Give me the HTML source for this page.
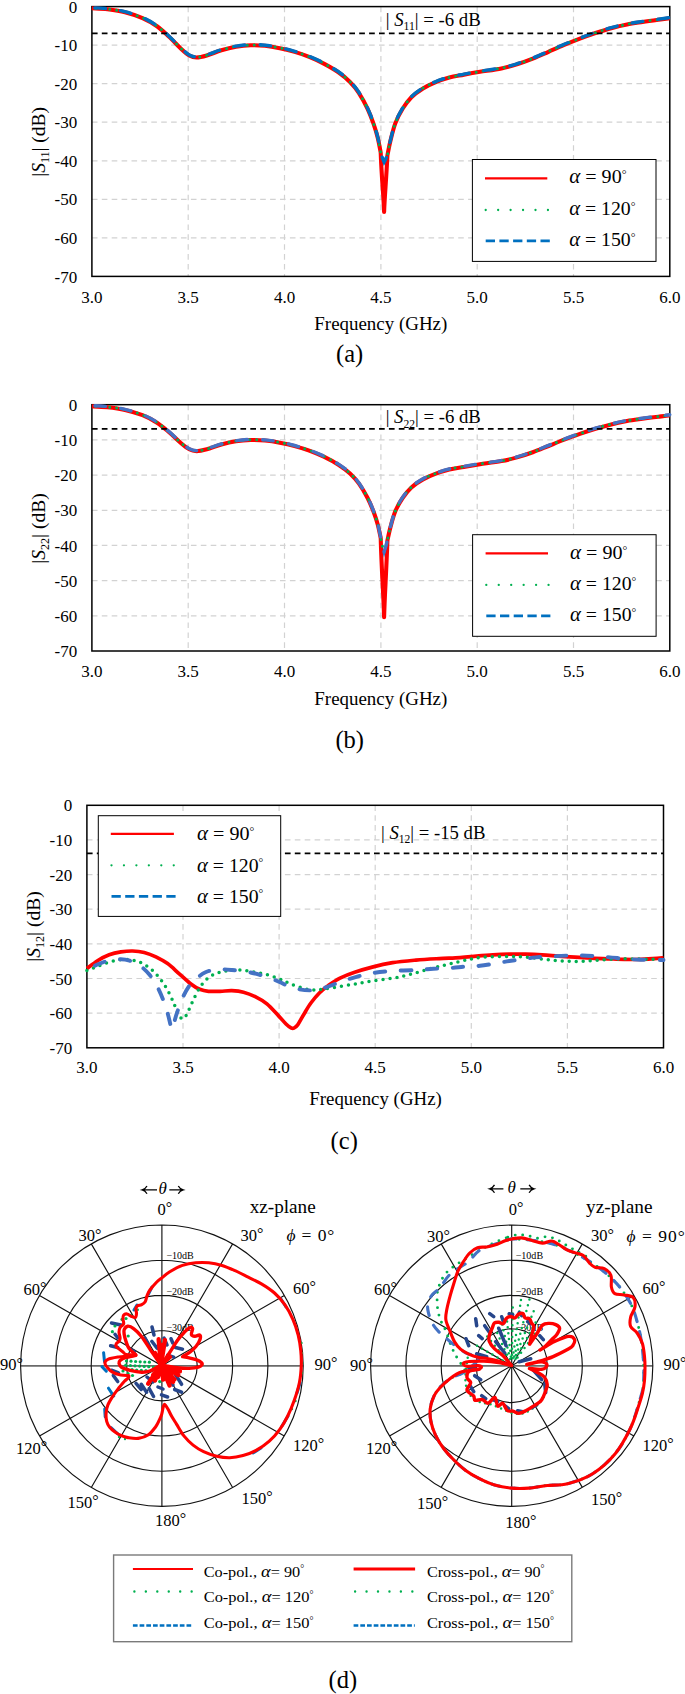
<!DOCTYPE html>
<html><head><meta charset="utf-8"><title>fig</title>
<style>html,body{margin:0;padding:0;background:#fff}svg{display:block}text{font-family:"Liberation Serif",serif;fill:#000}</style>
</head><body>
<svg width="685" height="1694" viewBox="0 0 685 1694">
<rect width="685" height="1694" fill="#fff"/>
<defs>
<clipPath id="clip11"><rect x="91.9" y="6.6" width="577.9" height="269.8"/></clipPath>
<clipPath id="clip22"><rect x="91.9" y="404.7" width="577.9" height="246.3"/></clipPath>
<clipPath id="clip12"><rect x="86.9" y="805.3" width="576.6" height="242.5"/></clipPath>
</defs>
<path d="M91.9,45.1H669.8M91.9,83.7H669.8M91.9,122.2H669.8M91.9,160.8H669.8M91.9,199.3H669.8M91.9,237.9H669.8M188.2,6.6V276.4M284.5,6.6V276.4M380.9,6.6V276.4M477.2,6.6V276.4M573.5,6.6V276.4" stroke="#d2d2d2" stroke-width="1.2" stroke-dasharray="5.6 4.3" fill="none"/>
<rect x="91.9" y="6.6" width="577.9" height="269.8" fill="none" stroke="#000" stroke-width="1.5"/>
<g>
<path d="M91.9,8.3C94.5,8.5 102,8.6 107.5,9.3C113,10 119.2,10.8 125,12.3C130.8,13.8 137.2,15.8 142.5,18.1C147.8,20.4 152.6,23.2 157,26.3C161.4,29.4 164.9,32.9 168.8,36.5C172.7,40.1 177.1,45 180.5,48.2C183.9,51.4 186.6,54 189.3,55.5C192,57 193.7,57.5 196.6,57.5C199.5,57.5 202.7,56.7 206.8,55.5C210.9,54.3 216.5,51.7 221.4,50.2C226.3,48.7 231.1,47.5 236,46.7C240.9,45.9 245.8,45.4 250.6,45.3C255.4,45.1 260.1,45.3 265,45.8C269.9,46.3 274.9,47.2 279.8,48.2C284.7,49.2 289.7,50.5 294.6,51.9C299.5,53.3 304.3,54.9 309.2,56.9C314.1,58.9 318.9,61 323.8,63.6C328.7,66.2 334,69.2 338.4,72.3C342.8,75.4 346.6,78.6 350,82C353.4,85.4 355.9,88.3 358.8,92.8C361.7,97.3 365.2,103.7 367.6,108.8C370,113.9 371.7,118.5 373.4,123.4C375.1,128.3 376.6,133.1 377.8,138C379,142.9 380.2,150.2 380.7,152.6C381.7,179.3 383.5,194.2 384.1,212 C384.7,195.1 386.2,180.9 387.4,155.5C387.9,153.1 389.1,146.3 390.4,141C391.7,135.7 393.3,128.8 395.3,123.4C397.3,118 399.9,113.2 402.6,108.8C405.3,104.4 408,100.6 411.4,97.2C414.8,93.8 419.1,90.8 423,88.4C426.9,86 430.3,84.4 434.7,82.6C439.1,80.8 444.4,78.9 449.3,77.6C454.2,76.3 458.8,75.7 463.9,74.7C469,73.7 473.8,72.8 480,71.8C486.2,70.8 495.2,69.7 501.4,68.4C507.6,67.2 511.8,65.9 517,64.3C522.2,62.7 527.5,60.8 532.8,58.7C538,56.6 543.3,54.1 548.5,51.8C553.7,49.5 559,47.1 564.2,44.9C569.4,42.7 574.7,40.6 579.9,38.6C585.1,36.6 590.3,34.7 595.5,33C600.7,31.3 605.9,29.6 611.2,28.2C616.4,26.8 621.8,25.5 627,24.5C632.2,23.5 637.4,22.8 642.6,22C647.8,21.2 653.8,20.4 658.3,19.8C662.8,19.2 667.9,18.5 669.8,18.2" stroke="#ff0000" stroke-width="4.1" fill="none" stroke-linejoin="round"/>
<path d="M91.9,8.3C94.5,8.5 102,8.6 107.5,9.3C113,10 119.2,10.8 125,12.3C130.8,13.8 137.2,15.8 142.5,18.1C147.8,20.4 152.6,23.2 157,26.3C161.4,29.4 164.9,32.9 168.8,36.5C172.7,40.1 177.1,45 180.5,48.2C183.9,51.4 186.6,54 189.3,55.5C192,57 193.7,57.5 196.6,57.5C199.5,57.5 202.7,56.7 206.8,55.5C210.9,54.3 216.5,51.7 221.4,50.2C226.3,48.7 231.1,47.5 236,46.7C240.9,45.9 245.8,45.4 250.6,45.3C255.4,45.1 260.1,45.3 265,45.8C269.9,46.3 274.9,47.2 279.8,48.2C284.7,49.2 289.7,50.5 294.6,51.9C299.5,53.3 304.3,54.9 309.2,56.9C314.1,58.9 318.9,61 323.8,63.6C328.7,66.2 334,69.2 338.4,72.3C342.8,75.4 346.6,78.6 350,82C353.4,85.4 355.9,88.3 358.8,92.8C361.7,97.3 365.2,103.7 367.6,108.8C370,113.9 371.7,118.5 373.4,123.4C375.1,128.3 376.6,133.1 377.8,138C379,142.9 380.2,150.2 380.7,152.6C381.7,157.1 382.9,159.7 384.1,162.7 C385.3,160.5 386.2,158.7 387.4,155.5C387.9,153.1 389.1,146.3 390.4,141C391.7,135.7 393.3,128.8 395.3,123.4C397.3,118 399.9,113.2 402.6,108.8C405.3,104.4 408,100.6 411.4,97.2C414.8,93.8 419.1,90.8 423,88.4C426.9,86 430.3,84.4 434.7,82.6C439.1,80.8 444.4,78.9 449.3,77.6C454.2,76.3 458.8,75.7 463.9,74.7C469,73.7 473.8,72.8 480,71.8C486.2,70.8 495.2,69.7 501.4,68.4C507.6,67.2 511.8,65.9 517,64.3C522.2,62.7 527.5,60.8 532.8,58.7C538,56.6 543.3,54.1 548.5,51.8C553.7,49.5 559,47.1 564.2,44.9C569.4,42.7 574.7,40.6 579.9,38.6C585.1,36.6 590.3,34.7 595.5,33C600.7,31.3 605.9,29.6 611.2,28.2C616.4,26.8 621.8,25.5 627,24.5C632.2,23.5 637.4,22.8 642.6,22C647.8,21.2 653.8,20.4 658.3,19.8C662.8,19.2 667.9,18.5 669.8,18.2" stroke="#00b050" stroke-width="3.0" fill="none" stroke-linecap="round" stroke-dasharray="0 7" stroke-dashoffset="3" transform="translate(0,-0.3)"/>
<path d="M91.9,8.3C94.5,8.5 102,8.6 107.5,9.3C113,10 119.2,10.8 125,12.3C130.8,13.8 137.2,15.8 142.5,18.1C147.8,20.4 152.6,23.2 157,26.3C161.4,29.4 164.9,32.9 168.8,36.5C172.7,40.1 177.1,45 180.5,48.2C183.9,51.4 186.6,54 189.3,55.5C192,57 193.7,57.5 196.6,57.5C199.5,57.5 202.7,56.7 206.8,55.5C210.9,54.3 216.5,51.7 221.4,50.2C226.3,48.7 231.1,47.5 236,46.7C240.9,45.9 245.8,45.4 250.6,45.3C255.4,45.1 260.1,45.3 265,45.8C269.9,46.3 274.9,47.2 279.8,48.2C284.7,49.2 289.7,50.5 294.6,51.9C299.5,53.3 304.3,54.9 309.2,56.9C314.1,58.9 318.9,61 323.8,63.6C328.7,66.2 334,69.2 338.4,72.3C342.8,75.4 346.6,78.6 350,82C353.4,85.4 355.9,88.3 358.8,92.8C361.7,97.3 365.2,103.7 367.6,108.8C370,113.9 371.7,118.5 373.4,123.4C375.1,128.3 376.6,133.1 377.8,138C379,142.9 380.2,150.2 380.7,152.6C381.7,157.1 382.9,159.7 384.1,162.7 C385.3,160.5 386.2,158.7 387.4,155.5C387.9,153.1 389.1,146.3 390.4,141C391.7,135.7 393.3,128.8 395.3,123.4C397.3,118 399.9,113.2 402.6,108.8C405.3,104.4 408,100.6 411.4,97.2C414.8,93.8 419.1,90.8 423,88.4C426.9,86 430.3,84.4 434.7,82.6C439.1,80.8 444.4,78.9 449.3,77.6C454.2,76.3 458.8,75.7 463.9,74.7C469,73.7 473.8,72.8 480,71.8C486.2,70.8 495.2,69.7 501.4,68.4C507.6,67.2 511.8,65.9 517,64.3C522.2,62.7 527.5,60.8 532.8,58.7C538,56.6 543.3,54.1 548.5,51.8C553.7,49.5 559,47.1 564.2,44.9C569.4,42.7 574.7,40.6 579.9,38.6C585.1,36.6 590.3,34.7 595.5,33C600.7,31.3 605.9,29.6 611.2,28.2C616.4,26.8 621.8,25.5 627,24.5C632.2,23.5 637.4,22.8 642.6,22C647.8,21.2 653.8,20.4 658.3,19.8C662.8,19.2 667.9,18.5 669.8,18.2" stroke="#0070c0" stroke-width="3.4" fill="none" stroke-linecap="round" stroke-dasharray="10.5 15.5" stroke-dashoffset="-3" transform="translate(0,-0.6)"/>
</g>
<path d="M91.9,33.3H669.8" stroke="#000" stroke-width="1.7" stroke-dasharray="5.7 4.2" fill="none"/>
<text x="77.2" y="12.7" font-size="17" text-anchor="end">0</text>
<text x="77.2" y="51.2" font-size="17" text-anchor="end">-10</text>
<text x="77.2" y="89.8" font-size="17" text-anchor="end">-20</text>
<text x="77.2" y="128.3" font-size="17" text-anchor="end">-30</text>
<text x="77.2" y="166.9" font-size="17" text-anchor="end">-40</text>
<text x="77.2" y="205.4" font-size="17" text-anchor="end">-50</text>
<text x="77.2" y="244" font-size="17" text-anchor="end">-60</text>
<text x="77.2" y="282.5" font-size="17" text-anchor="end">-70</text>
<text x="91.9" y="303.1" font-size="17" text-anchor="middle">3.0</text>
<text x="188.2" y="303.1" font-size="17" text-anchor="middle">3.5</text>
<text x="284.5" y="303.1" font-size="17" text-anchor="middle">4.0</text>
<text x="380.9" y="303.1" font-size="17" text-anchor="middle">4.5</text>
<text x="477.2" y="303.1" font-size="17" text-anchor="middle">5.0</text>
<text x="573.5" y="303.1" font-size="17" text-anchor="middle">5.5</text>
<text x="669.8" y="303.1" font-size="17" text-anchor="middle">6.0</text>
<g transform="translate(45.1,141.8) rotate(-90)">
<text x="0" y="0" text-anchor="middle" font-size="19.5">|<tspan font-style="italic">S</tspan><tspan font-size="12.1" dy="3.5">11</tspan><tspan dy="-3.5">| (dB)</tspan></text>
</g>
<text x="314.3" y="329.8" font-size="19" textLength="133" lengthAdjust="spacingAndGlyphs">Frequency (GHz)</text>
<text x="336" y="361.9" font-size="24.5">(a)</text>
<text x="385.7" y="25.8" font-size="19" textLength="95" lengthAdjust="spacingAndGlyphs">| <tspan font-style="italic">S</tspan><tspan font-size="11.8" dy="4.3">11</tspan><tspan dy="-4.3">| = -6 dB</tspan></text>
<rect x="472.4" y="159.5" width="183.6" height="101.9" fill="#fff" stroke="#000" stroke-width="1"/>
<path d="M485,178.3H547.3" stroke="#ff0000" stroke-width="2.3" fill="none"/>
<path d="M485.7,210H549.3" stroke="#00b050" stroke-width="2.3" stroke-linecap="round" stroke-dasharray="0 12.45" fill="none"/>
<path d="M485.7,240.9H551.3" stroke="#0070c0" stroke-width="2.8" stroke-dasharray="9.3 4.4" fill="none"/>
<text x="569.2" y="183.3" font-size="19" textLength="57.3" lengthAdjust="spacingAndGlyphs"><tspan font-style="italic" font-size="19.9">α</tspan> = 90<tspan font-size="11.4" dy="-5.2">°</tspan></text>
<text x="569.2" y="215" font-size="19" textLength="66.3" lengthAdjust="spacingAndGlyphs"><tspan font-style="italic" font-size="19.9">α</tspan> = 120<tspan font-size="11.4" dy="-5.2">°</tspan></text>
<text x="569.2" y="245.9" font-size="19" textLength="66.3" lengthAdjust="spacingAndGlyphs"><tspan font-style="italic" font-size="19.9">α</tspan> = 150<tspan font-size="11.4" dy="-5.2">°</tspan></text>
<path d="M91.9,439.9H669.8M91.9,475.1H669.8M91.9,510.3H669.8M91.9,545.4H669.8M91.9,580.6H669.8M91.9,615.8H669.8M188.2,404.7V651M284.5,404.7V651M380.9,404.7V651M477.2,404.7V651M573.5,404.7V651" stroke="#d2d2d2" stroke-width="1.2" stroke-dasharray="5.6 4.3" fill="none"/>
<rect x="91.9" y="404.7" width="577.9" height="246.3" fill="none" stroke="#000" stroke-width="1.5"/>
<g>
<path d="M91.9,406.3C94.5,406.4 102,406.6 107.5,407.2C113,407.8 119.2,408.6 125,409.9C130.8,411.2 137.2,413.1 142.5,415.2C147.8,417.3 152.6,419.9 157,422.7C161.4,425.5 164.9,428.7 168.8,432C172.7,435.3 177.1,439.8 180.5,442.7C183.9,445.6 186.6,447.9 189.3,449.3C192,450.8 193.7,451.2 196.6,451.2C199.5,451.2 202.7,450.5 206.8,449.3C210.9,448.2 216.5,445.8 221.4,444.5C226.3,443.2 231.1,442.1 236,441.3C240.9,440.6 245.8,440.2 250.6,440C255.4,439.9 260.1,440 265,440.5C269.9,440.9 274.9,441.7 279.8,442.7C284.7,443.6 289.7,444.7 294.6,446.1C299.5,447.4 304.3,448.8 309.2,450.6C314.1,452.4 318.9,454.4 323.8,456.7C328.7,459.1 334,461.9 338.4,464.7C342.8,467.5 346.6,470.4 350,473.5C353.4,476.7 355.9,479.3 358.8,483.4C361.7,487.5 365.2,493.3 367.6,498C370,502.7 371.7,506.9 373.4,511.3C375.1,515.8 376.6,520.2 377.8,524.7C379,529.1 380.2,535.8 380.7,538C381.7,573.6 383.5,593.5 384.1,617.2 C384.7,594.2 386.2,575.1 387.4,540.6C387.9,538.4 389.1,532.3 390.4,527.4C391.7,522.5 393.3,516.2 395.3,511.3C397.3,506.4 399.9,502 402.6,498C405.3,494 408,490.5 411.4,487.4C414.8,484.3 419.1,481.6 423,479.4C426.9,477.2 430.3,475.7 434.7,474.1C439.1,472.4 444.4,470.7 449.3,469.5C454.2,468.3 458.8,467.8 463.9,466.9C469,466 473.8,465.2 480,464.2C486.2,463.3 495.2,462.3 501.4,461.1C507.6,460 511.8,458.9 517,457.4C522.2,455.9 527.5,454.2 532.8,452.3C538,450.4 543.3,448.1 548.5,446C553.7,443.9 559,441.7 564.2,439.7C569.4,437.7 574.7,435.7 579.9,433.9C585.1,432.1 590.3,430.4 595.5,428.8C600.7,427.2 605.9,425.7 611.2,424.4C616.4,423.1 621.8,422 627,421C632.2,420.1 637.4,419.5 642.6,418.8C647.8,418 653.8,417.3 658.3,416.8C662.8,416.2 667.9,415.5 669.8,415.3" stroke="#ff0000" stroke-width="4.1" fill="none" stroke-linejoin="round"/>
<path d="M91.9,406.3C94.5,406.4 102,406.6 107.5,407.2C113,407.8 119.2,408.6 125,409.9C130.8,411.2 137.2,413.1 142.5,415.2C147.8,417.3 152.6,419.9 157,422.7C161.4,425.5 164.9,428.7 168.8,432C172.7,435.3 177.1,439.8 180.5,442.7C183.9,445.6 186.6,447.9 189.3,449.3C192,450.8 193.7,451.2 196.6,451.2C199.5,451.2 202.7,450.5 206.8,449.3C210.9,448.2 216.5,445.8 221.4,444.5C226.3,443.2 231.1,442.1 236,441.3C240.9,440.6 245.8,440.2 250.6,440C255.4,439.9 260.1,440 265,440.5C269.9,440.9 274.9,441.7 279.8,442.7C284.7,443.6 289.7,444.7 294.6,446.1C299.5,447.4 304.3,448.8 309.2,450.6C314.1,452.4 318.9,454.4 323.8,456.7C328.7,459.1 334,461.9 338.4,464.7C342.8,467.5 346.6,470.4 350,473.5C353.4,476.7 355.9,479.3 358.8,483.4C361.7,487.5 365.2,493.3 367.6,498C370,502.7 371.7,506.9 373.4,511.3C375.1,515.8 376.6,520.2 377.8,524.7C379,529.1 380.2,535.8 380.7,538C381.7,544.5 382.9,548.1 384.1,552.5 C385.3,548.9 386.2,546 387.4,540.6C387.9,538.4 389.1,532.3 390.4,527.4C391.7,522.5 393.3,516.2 395.3,511.3C397.3,506.4 399.9,502 402.6,498C405.3,494 408,490.5 411.4,487.4C414.8,484.3 419.1,481.6 423,479.4C426.9,477.2 430.3,475.7 434.7,474.1C439.1,472.4 444.4,470.7 449.3,469.5C454.2,468.3 458.8,467.8 463.9,466.9C469,466 473.8,465.2 480,464.2C486.2,463.3 495.2,462.3 501.4,461.1C507.6,460 511.8,458.9 517,457.4C522.2,455.9 527.5,454.2 532.8,452.3C538,450.4 543.3,448.1 548.5,446C553.7,443.9 559,441.7 564.2,439.7C569.4,437.7 574.7,435.7 579.9,433.9C585.1,432.1 590.3,430.4 595.5,428.8C600.7,427.2 605.9,425.7 611.2,424.4C616.4,423.1 621.8,422 627,421C632.2,420.1 637.4,419.5 642.6,418.8C647.8,418 653.8,417.3 658.3,416.8C662.8,416.2 667.9,415.5 669.8,415.3" stroke="#00b050" stroke-width="3.0" fill="none" stroke-linecap="round" stroke-dasharray="0 7" stroke-dashoffset="3" transform="translate(0,-0.3)"/>
<path d="M91.9,406.3C94.5,406.4 102,406.6 107.5,407.2C113,407.8 119.2,408.6 125,409.9C130.8,411.2 137.2,413.1 142.5,415.2C147.8,417.3 152.6,419.9 157,422.7C161.4,425.5 164.9,428.7 168.8,432C172.7,435.3 177.1,439.8 180.5,442.7C183.9,445.6 186.6,447.9 189.3,449.3C192,450.8 193.7,451.2 196.6,451.2C199.5,451.2 202.7,450.5 206.8,449.3C210.9,448.2 216.5,445.8 221.4,444.5C226.3,443.2 231.1,442.1 236,441.3C240.9,440.6 245.8,440.2 250.6,440C255.4,439.9 260.1,440 265,440.5C269.9,440.9 274.9,441.7 279.8,442.7C284.7,443.6 289.7,444.7 294.6,446.1C299.5,447.4 304.3,448.8 309.2,450.6C314.1,452.4 318.9,454.4 323.8,456.7C328.7,459.1 334,461.9 338.4,464.7C342.8,467.5 346.6,470.4 350,473.5C353.4,476.7 355.9,479.3 358.8,483.4C361.7,487.5 365.2,493.3 367.6,498C370,502.7 371.7,506.9 373.4,511.3C375.1,515.8 376.6,520.2 377.8,524.7C379,529.1 380.2,535.8 380.7,538C381.7,544.5 382.9,548.1 384.1,552.5 C385.3,548.9 386.2,546 387.4,540.6C387.9,538.4 389.1,532.3 390.4,527.4C391.7,522.5 393.3,516.2 395.3,511.3C397.3,506.4 399.9,502 402.6,498C405.3,494 408,490.5 411.4,487.4C414.8,484.3 419.1,481.6 423,479.4C426.9,477.2 430.3,475.7 434.7,474.1C439.1,472.4 444.4,470.7 449.3,469.5C454.2,468.3 458.8,467.8 463.9,466.9C469,466 473.8,465.2 480,464.2C486.2,463.3 495.2,462.3 501.4,461.1C507.6,460 511.8,458.9 517,457.4C522.2,455.9 527.5,454.2 532.8,452.3C538,450.4 543.3,448.1 548.5,446C553.7,443.9 559,441.7 564.2,439.7C569.4,437.7 574.7,435.7 579.9,433.9C585.1,432.1 590.3,430.4 595.5,428.8C600.7,427.2 605.9,425.7 611.2,424.4C616.4,423.1 621.8,422 627,421C632.2,420.1 637.4,419.5 642.6,418.8C647.8,418 653.8,417.3 658.3,416.8C662.8,416.2 667.9,415.5 669.8,415.3" stroke="#4472c4" stroke-width="3.4" fill="none" stroke-linecap="round" stroke-dasharray="10.5 15.5" stroke-dashoffset="-3" transform="translate(0,-0.6)"/>
</g>
<path d="M91.9,428.8H669.8" stroke="#000" stroke-width="1.7" stroke-dasharray="5.7 4.2" fill="none"/>
<text x="77.2" y="410.8" font-size="17" text-anchor="end">0</text>
<text x="77.2" y="446" font-size="17" text-anchor="end">-10</text>
<text x="77.2" y="481.2" font-size="17" text-anchor="end">-20</text>
<text x="77.2" y="516.4" font-size="17" text-anchor="end">-30</text>
<text x="77.2" y="551.5" font-size="17" text-anchor="end">-40</text>
<text x="77.2" y="586.7" font-size="17" text-anchor="end">-50</text>
<text x="77.2" y="621.9" font-size="17" text-anchor="end">-60</text>
<text x="77.2" y="657.1" font-size="17" text-anchor="end">-70</text>
<text x="91.9" y="677" font-size="17" text-anchor="middle">3.0</text>
<text x="188.2" y="677" font-size="17" text-anchor="middle">3.5</text>
<text x="284.5" y="677" font-size="17" text-anchor="middle">4.0</text>
<text x="380.9" y="677" font-size="17" text-anchor="middle">4.5</text>
<text x="477.2" y="677" font-size="17" text-anchor="middle">5.0</text>
<text x="573.5" y="677" font-size="17" text-anchor="middle">5.5</text>
<text x="669.8" y="677" font-size="17" text-anchor="middle">6.0</text>
<g transform="translate(45.1,528.5) rotate(-90)">
<text x="0" y="0" text-anchor="middle" font-size="19.5">|<tspan font-style="italic">S</tspan><tspan font-size="12.1" dy="3.5">22</tspan><tspan dy="-3.5">| (dB)</tspan></text>
</g>
<text x="314.3" y="704.8" font-size="19" textLength="133" lengthAdjust="spacingAndGlyphs">Frequency (GHz)</text>
<text x="335.4" y="748.1" font-size="24.5">(b)</text>
<text x="385.7" y="423.4" font-size="19" textLength="95" lengthAdjust="spacingAndGlyphs">| <tspan font-style="italic">S</tspan><tspan font-size="11.8" dy="4.3">22</tspan><tspan dy="-4.3">| = -6 dB</tspan></text>
<rect x="472.6" y="534.7" width="183.5" height="101.6" fill="#fff" stroke="#000" stroke-width="1"/>
<path d="M485.6,553.3H548" stroke="#ff0000" stroke-width="2.3" fill="none"/>
<path d="M486.3,584.9H550" stroke="#00b050" stroke-width="2.3" stroke-linecap="round" stroke-dasharray="0 12.45" fill="none"/>
<path d="M486.3,615.8H552" stroke="#0070c0" stroke-width="2.8" stroke-dasharray="9.3 4.4" fill="none"/>
<text x="570" y="558.7" font-size="19" textLength="57.3" lengthAdjust="spacingAndGlyphs"><tspan font-style="italic" font-size="19.9">α</tspan> = 90<tspan font-size="11.4" dy="-5.2">°</tspan></text>
<text x="570" y="590" font-size="19" textLength="66.3" lengthAdjust="spacingAndGlyphs"><tspan font-style="italic" font-size="19.9">α</tspan> = 120<tspan font-size="11.4" dy="-5.2">°</tspan></text>
<text x="570" y="621.1" font-size="19" textLength="66.3" lengthAdjust="spacingAndGlyphs"><tspan font-style="italic" font-size="19.9">α</tspan> = 150<tspan font-size="11.4" dy="-5.2">°</tspan></text>
<path d="M86.9,839.9H663.5M86.9,874.6H663.5M86.9,909.2H663.5M86.9,943.9H663.5M86.9,978.5H663.5M86.9,1013.2H663.5M183,805.3V1047.8M279.1,805.3V1047.8M375.2,805.3V1047.8M471.3,805.3V1047.8M567.4,805.3V1047.8" stroke="#d2d2d2" stroke-width="1.2" stroke-dasharray="5.6 4.3" fill="none"/>
<rect x="86.9" y="805.3" width="576.6" height="242.5" fill="none" stroke="#000" stroke-width="1.5"/>
<g>
<path d="M86.9,968.5C88.7,967.2 93.8,963 97.5,960.7C101.2,958.4 105.3,956.3 109.2,954.8C113.1,953.3 117,952.5 120.9,951.9C124.8,951.3 128.7,950.9 132.6,951C136.5,951.1 140.3,951.5 144.2,952.5C148.1,953.5 152,955 155.9,956.9C159.8,958.8 163.7,960.8 167.6,963.6C171.5,966.4 175.4,970.4 179.3,973.8C183.2,977.2 187.5,981.4 190.9,984C194.3,986.6 196.8,988.1 199.7,989.3C202.6,990.5 205.1,991 208.5,991.3C211.9,991.6 216.2,991.4 220.1,991.3C224,991.2 227.9,990.6 231.8,990.7C235.7,990.9 239.6,991.2 243.5,992.2C247.4,993.2 251.3,994.7 255.2,996.6C259.1,998.5 263,1000.6 266.9,1003.9C270.8,1007.1 275.6,1012.8 278.8,1016.1C282,1019.5 284,1022 286,1024C288,1026 289.7,1027.1 291,1027.8C292.3,1028.5 292.8,1028.6 293.9,1028.1C295,1027.6 296.1,1027.1 297.7,1024.9C299.3,1022.7 301.4,1018.4 303.6,1014.7C305.8,1011.1 308.2,1006.6 310.9,1003C313.6,999.4 316.7,995.7 319.6,992.8C322.5,989.9 325,987.9 328.4,985.5C331.8,983.1 335.6,980.4 340,978.2C344.4,976 349.3,974.1 354.7,972.3C360.1,970.4 365.9,968.7 372.2,967.1C378.5,965.5 385.3,963.9 392.6,962.7C399.9,961.5 408.2,960.8 416,960.1C423.8,959.4 432,959 439.3,958.6C446.6,958.2 453.8,958 460,957.6C466.2,957.2 470.9,956.6 476.4,956.1C481.9,955.6 487.4,955.1 492.9,954.8C498.4,954.5 503.8,954.3 509.3,954.2C514.8,954.1 520.2,954.1 525.7,954.2C531.2,954.3 536.6,954.5 542.1,954.8C547.6,955.1 553.1,955.7 558.6,956.1C564.1,956.5 569.5,956.8 575,957.1C580.5,957.4 585.9,957.8 591.4,958.1C596.9,958.4 602.3,958.6 607.8,958.8C613.3,959 618.8,959.3 624.3,959.4C629.8,959.5 635.2,959.6 640.7,959.4C646.2,959.2 653.3,958.7 657.1,958.4C660.9,958.1 662.4,957.9 663.5,957.8" stroke="#ff0000" stroke-width="3.7" fill="none" stroke-linejoin="round"/>
<path d="M86.9,970.6C88.7,969.9 93.8,967.9 97.5,966.5C101.2,965.1 105.3,963.2 109.2,962.1C113.1,961 117,960.1 120.9,959.8C124.8,959.5 128.9,959.5 132.6,960.1C136.2,960.7 139.4,961.8 142.8,963.6C146.2,965.4 149.8,968 153,970.9C156.2,973.8 159.1,977.5 161.8,981.1C164.5,984.8 166.8,988.7 169,992.8C171.2,996.9 173.2,1002 174.9,1005.9C176.6,1009.8 177.9,1014 179.3,1016.1C180.8,1018.2 182.2,1019.3 183.6,1018.6C185,1017.9 186.3,1015.1 188,1011.8C189.7,1008.5 191.7,1003 193.9,998.6C196.1,994.2 198.5,989.1 201.2,985.5C203.9,981.9 206.8,978.9 209.9,976.7C213.1,974.5 216.4,973.4 220.1,972.3C223.8,971.2 227.9,970.6 231.8,970.3C235.7,970 239.6,970 243.5,970.3C247.4,970.6 251.3,971.6 255.2,972.3C259.1,973 263,973.7 266.9,974.7C270.8,975.8 275.4,977.3 278.8,978.6C282.2,979.9 284.1,981.2 287.5,982.6C290.9,984 295.3,985.7 299.2,986.9C303.1,988.1 307,989.5 310.9,989.9C314.8,990.3 318.2,989.8 322.6,989.3C327,988.8 331.9,987.8 337.2,986.9C342.5,986 348.9,985 354.7,984C360.5,983 365.9,982.1 372.2,981.1C378.5,980.1 386.3,979.3 392.6,978.2C398.9,977.1 404.2,975.9 410.1,974.4C416,972.9 421.9,971 427.7,969.4C433.5,967.8 439.8,966.3 445.2,965C450.6,963.7 455.1,962.6 459.8,961.5C464.5,960.4 468.1,959.4 473.1,958.6C478.1,957.8 483.6,957.1 489.6,956.8C495.6,956.4 503.3,956.5 509.3,956.5C515.3,956.5 520.2,956.7 525.7,957.1C531.2,957.5 536.6,958.5 542.1,959.1C547.6,959.7 553.1,960.3 558.6,960.7C564.1,961.1 569.5,961.4 575,961.4C580.5,961.4 585.9,961 591.4,960.7C596.9,960.4 602.3,959.7 607.8,959.4C613.3,959.1 618.8,958.8 624.3,958.8C629.8,958.8 634.2,959 640.7,959.1C647.2,959.2 659.7,959.4 663.5,959.4" stroke="#00b050" stroke-width="3.5" fill="none" stroke-linecap="round" stroke-dasharray="0 7"/>
<path d="M86.9,970C88.7,969.1 93.8,966.1 97.5,964.5C101.2,962.9 105.3,961.3 109.2,960.4C113.1,959.5 117.5,959.2 120.9,959.2C124.3,959.2 126.4,959.6 129.6,960.7C132.8,961.8 136.5,963.2 139.9,965.6C143.3,968 147.1,971.8 150,975.3C152.9,978.8 155.2,982.8 157.4,986.9C159.6,991 161.5,995.6 163.2,1000C164.9,1004.4 166.4,1009.2 167.6,1013.2C168.8,1017.2 169.6,1021.3 170.3,1024C171,1026.7 171.4,1029.3 172,1029.3C172.6,1029.3 173.1,1026.4 173.8,1024C174.5,1021.6 175,1018.9 176.4,1014.7C177.8,1010.5 180,1003.5 182.2,998.6C184.4,993.7 187.1,988.9 189.5,985.5C191.9,982.1 194.1,980.4 196.8,978.2C199.5,976 202.1,973.8 205.5,972.3C208.9,970.8 212.8,969.8 217.2,969.4C221.6,969 226.5,969.5 231.8,970C237.2,970.5 244,971.3 249.3,972.3C254.7,973.3 259,974.5 263.9,976.1C268.8,977.7 274.9,980 278.8,981.6C282.7,983.2 284.1,984.3 287.5,985.6C290.9,986.9 295.3,988.5 299.2,989.3C303.1,990.1 307,990.5 310.9,990.4C314.8,990.2 318.2,989.6 322.6,988.4C327,987.2 331.9,985 337.2,983.1C342.5,981.2 348.9,978.9 354.7,977.3C360.5,975.6 365.9,974.3 372.2,973.2C378.5,972.1 385.3,971.4 392.6,970.9C399.9,970.4 409.2,970.4 416,970C422.8,969.6 427.7,969.1 433.5,968.8C439.3,968.5 445.8,968.4 451,968C456.2,967.6 460.2,967 465,966.6C469.8,966.2 474.3,966.4 480,965.8C485.7,965.1 494.5,963.5 499.4,962.7C504.3,961.9 504.9,961.6 509.3,961C513.7,960.4 521.3,959.4 525.7,958.8C530.1,958.2 530.7,957.8 535.6,957.4C540.5,957 547.6,956.4 555.3,956.1C562.9,955.8 572.8,955.3 581.5,955.5C590.2,955.7 600.7,956.6 607.8,957.1C614.9,957.6 618.8,958.4 624.3,958.8C629.8,959.2 634.2,959.5 640.7,959.7C647.2,959.9 659.7,960 663.5,960" stroke="#4472c4" stroke-width="3.9" fill="none" stroke-linecap="round" stroke-dasharray="10.5 15.5" stroke-dashoffset="-9"/>
</g>
<path d="M86.9,853.3H663.5" stroke="#000" stroke-width="1.7" stroke-dasharray="5.7 4.2" fill="none"/>
<text x="72.2" y="811.4" font-size="17" text-anchor="end">0</text>
<text x="72.2" y="846" font-size="17" text-anchor="end">-10</text>
<text x="72.2" y="880.7" font-size="17" text-anchor="end">-20</text>
<text x="72.2" y="915.3" font-size="17" text-anchor="end">-30</text>
<text x="72.2" y="950" font-size="17" text-anchor="end">-40</text>
<text x="72.2" y="984.6" font-size="17" text-anchor="end">-50</text>
<text x="72.2" y="1019.3" font-size="17" text-anchor="end">-60</text>
<text x="72.2" y="1053.9" font-size="17" text-anchor="end">-70</text>
<text x="86.9" y="1073.4" font-size="17" text-anchor="middle">3.0</text>
<text x="183" y="1073.4" font-size="17" text-anchor="middle">3.5</text>
<text x="279.1" y="1073.4" font-size="17" text-anchor="middle">4.0</text>
<text x="375.2" y="1073.4" font-size="17" text-anchor="middle">4.5</text>
<text x="471.3" y="1073.4" font-size="17" text-anchor="middle">5.0</text>
<text x="567.4" y="1073.4" font-size="17" text-anchor="middle">5.5</text>
<text x="663.5" y="1073.4" font-size="17" text-anchor="middle">6.0</text>
<g transform="translate(40.1,926.5) rotate(-90)">
<text x="0" y="0" text-anchor="middle" font-size="19.5">|<tspan font-style="italic">S</tspan><tspan font-size="12.1" dy="3.5">12</tspan><tspan dy="-3.5">| (dB)</tspan></text>
</g>
<text x="309.3" y="1104.6" font-size="19" textLength="132.5" lengthAdjust="spacingAndGlyphs">Frequency (GHz)</text>
<text x="330.6" y="1148.6" font-size="24.5">(c)</text>
<text x="381" y="839" font-size="19" textLength="104.4" lengthAdjust="spacingAndGlyphs">| <tspan font-style="italic">S</tspan><tspan font-size="11.8" dy="4.3">12</tspan><tspan dy="-4.3">| = -15 dB</tspan></text>
<rect x="98.3" y="815.7" width="182.4" height="100.7" fill="#fff" stroke="#000" stroke-width="1"/>
<path d="M110.8,833.8H173.9" stroke="#ff0000" stroke-width="2.3" fill="none"/>
<path d="M111.5,865.3H175.9" stroke="#00b050" stroke-width="2.3" stroke-linecap="round" stroke-dasharray="0 12.45" fill="none"/>
<path d="M111.5,896.4H177.9" stroke="#0070c0" stroke-width="2.8" stroke-dasharray="9.3 4.4" fill="none"/>
<text x="197" y="840.3" font-size="19" textLength="57.3" lengthAdjust="spacingAndGlyphs"><tspan font-style="italic" font-size="19.9">α</tspan> = 90<tspan font-size="11.4" dy="-5.2">°</tspan></text>
<text x="197" y="871.5" font-size="19" textLength="66.3" lengthAdjust="spacingAndGlyphs"><tspan font-style="italic" font-size="19.9">α</tspan> = 120<tspan font-size="11.4" dy="-5.2">°</tspan></text>
<text x="197" y="902.6" font-size="19" textLength="66.3" lengthAdjust="spacingAndGlyphs"><tspan font-style="italic" font-size="19.9">α</tspan> = 150<tspan font-size="11.4" dy="-5.2">°</tspan></text>
<path d="M20.6,1365.9H303.2" stroke="#6a6a6a" stroke-width="1.7" fill="none"/>
<path d="M126.6,1365.7A35.3,35.2 0 1 0 197.2,1365.7A35.3,35.2 0 1 0 126.6,1365.7M91.2,1365.7A70.7,70.3 0 1 0 232.6,1365.7A70.7,70.3 0 1 0 91.2,1365.7M55.9,1365.7A106,105.5 0 1 0 267.9,1365.7A106,105.5 0 1 0 55.9,1365.7M20.6,1365.7A141.3,140.7 0 1 0 303.2,1365.7A141.3,140.7 0 1 0 20.6,1365.7M161.9,1506.4L161.9,1225M91.3,1487.5L232.6,1243.9M39.5,1436L284.3,1295.4M39.5,1295.4L284.3,1436M91.3,1243.9L232.6,1487.5" stroke="#111" stroke-width="1.15" fill="none"/>
<text x="166.4" y="1258.8" font-size="9.5" textLength="27.4" lengthAdjust="spacingAndGlyphs">−10dB</text>
<text x="166.4" y="1294.5" font-size="9.5" textLength="27.4" lengthAdjust="spacingAndGlyphs">−20dB</text>
<text x="166.4" y="1331.3" font-size="9.5" textLength="27.4" lengthAdjust="spacingAndGlyphs">−30dB</text>
<path d="M102,1366.7L106.3,1371.1M108.5,1388.2L113.7,1396.1M103.6,1352.7L104.5,1361.5M104.7,1409L105.2,1417M111,1427.5L118,1434M148.5,1294L152,1287M134,1310L137,1305M281,1299L286,1307M300,1383L297,1393M288,1416L282,1426M261,1448L253,1453" stroke="#0070c0" stroke-width="3" stroke-linecap="round" fill="none"/>
<circle cx="301.5" cy="1343" r="1.2" fill="#00b050"/>
<circle cx="302" cy="1353" r="1.2" fill="#00b050"/>
<circle cx="302.3" cy="1363" r="1.2" fill="#00b050"/>
<circle cx="302" cy="1373" r="1.2" fill="#00b050"/>
<circle cx="295.5" cy="1401" r="1.2" fill="#00b050"/>
<circle cx="292" cy="1409" r="1.2" fill="#00b050"/>
<circle cx="119" cy="1437" r="1.2" fill="#00b050"/>
<circle cx="125" cy="1439" r="1.2" fill="#00b050"/>
<circle cx="131" cy="1315" r="1.2" fill="#00b050"/>
<circle cx="137.8" cy="1309.8" r="1.2" fill="#00b050"/>
<path d="M111.5,1323L122,1325.2M115,1334.3L117.7,1337.8M110.6,1345.7L117.7,1347.5M111.5,1370.2L118.5,1372.9M113.3,1375.5L117.7,1381.6M136,1383.4L141.3,1389.5M141.3,1384.3L146.6,1392.2M149.2,1388.6L153.6,1396.5M161.5,1394.8L167.6,1397M174.6,1389.5L181.6,1392.2M175.5,1374.6L181.6,1384.3M175.5,1347.5L182.5,1349.2M167.6,1355.3L173.7,1357.1M171,1338.7L172.8,1343M152,1327L154,1335M151.8,1341.3L157.1,1348.3M130,1349.2L134.3,1351.8M145,1338L149,1345M164,1338L167,1345M158,1387L163,1389M169,1379L173,1385M147,1377L153,1382" stroke="#27468b" stroke-width="3.5" stroke-linecap="round" fill="none"/>
<circle cx="112.4" cy="1331.7" r="1.6" fill="#00b050"/>
<circle cx="115" cy="1326" r="1.6" fill="#00b050"/>
<circle cx="122" cy="1319.4" r="1.6" fill="#00b050"/>
<circle cx="126" cy="1318.5" r="1.6" fill="#00b050"/>
<circle cx="128.2" cy="1336" r="1.6" fill="#00b050"/>
<circle cx="155.3" cy="1380.7" r="1.6" fill="#00b050"/>
<circle cx="159.7" cy="1381.6" r="1.6" fill="#00b050"/>
<circle cx="123" cy="1371" r="1.6" fill="#00b050"/>
<circle cx="132.5" cy="1375.5" r="1.6" fill="#00b050"/>
<circle cx="128" cy="1373.5" r="1.6" fill="#00b050"/>
<circle cx="126.4" cy="1361" r="1.6" fill="#00b050"/>
<circle cx="131" cy="1361.2" r="1.6" fill="#00b050"/>
<circle cx="135.6" cy="1361.5" r="1.6" fill="#00b050"/>
<circle cx="140.2" cy="1361.8" r="1.6" fill="#00b050"/>
<circle cx="144.8" cy="1362" r="1.6" fill="#00b050"/>
<circle cx="149.4" cy="1362.2" r="1.6" fill="#00b050"/>
<circle cx="125.8" cy="1365.2" r="1.6" fill="#00b050"/>
<circle cx="130.4" cy="1365.5" r="1.6" fill="#00b050"/>
<circle cx="135" cy="1365.8" r="1.6" fill="#00b050"/>
<circle cx="139.6" cy="1366.1" r="1.6" fill="#00b050"/>
<circle cx="144.2" cy="1366.4" r="1.6" fill="#00b050"/>
<circle cx="148.8" cy="1366.7" r="1.6" fill="#00b050"/>
<circle cx="153.4" cy="1367" r="1.6" fill="#00b050"/>
<circle cx="127.5" cy="1369.4" r="1.6" fill="#00b050"/>
<circle cx="132.1" cy="1369.7" r="1.6" fill="#00b050"/>
<circle cx="136.7" cy="1370" r="1.6" fill="#00b050"/>
<circle cx="141.3" cy="1370.3" r="1.6" fill="#00b050"/>
<circle cx="145.9" cy="1370.6" r="1.6" fill="#00b050"/>
<path d="M161,1278.6C162.4,1277.5 165.8,1274.2 169.4,1272C173,1269.8 178.1,1266.9 182.5,1265.4C186.9,1263.9 191.3,1263.2 195.7,1262.8C200.1,1262.4 204.4,1262.4 208.8,1262.8C213.2,1263.2 217.6,1264.1 222,1265.4C226.4,1266.7 230.7,1268.7 235.1,1270.7C239.5,1272.7 243.8,1275 248.2,1277.2C252.6,1279.4 257,1281.2 261.4,1283.8C265.8,1286.4 270.6,1289.5 274.5,1293C278.4,1296.5 281.9,1300.4 285,1304.8C288.1,1309.2 290.7,1314.3 292.9,1319.3C295.1,1324.3 296.9,1329.8 298.2,1335C299.5,1340.2 300.3,1345.8 300.8,1350.8C301.3,1355.8 301.5,1359.8 301.3,1365C301.1,1370.2 300.7,1376.3 299.5,1382.2C298.3,1388.1 296.2,1394.9 294.2,1400.6C292.2,1406.3 290,1411.4 287.6,1416.2C285.2,1421 282.9,1425.2 279.8,1429.4C276.8,1433.6 273.2,1437.7 269.3,1441.2C265.4,1444.7 260.5,1448 256.1,1450.4C251.7,1452.8 247.4,1454.4 243,1455.6C238.6,1456.8 234.2,1457.6 229.8,1457.7C225.4,1457.8 221.1,1457.2 216.7,1456.2C212.3,1455.2 207.5,1453.6 203.6,1451.7C199.7,1449.8 196.4,1447.7 193.1,1445.1C189.8,1442.5 186.7,1439.4 183.9,1435.9C181.1,1432.4 178.5,1427.3 176.5,1424.1C174.5,1420.9 173.2,1418.9 171.8,1416.5C170.4,1414.1 169.2,1411.3 168.2,1409.5C167.2,1407.7 166.4,1406.4 165.8,1405.6C165.2,1404.8 164.7,1404.6 164.5,1404.4L164.5,1404.4C164.3,1404.8 163.7,1405.2 163.2,1407C162.7,1408.8 162.3,1412.6 161.5,1415C160.7,1417.4 159.6,1419.5 158.6,1421.5C157.6,1423.5 157.4,1424.5 155.7,1426.7C154,1428.9 151.3,1432.8 148.4,1434.7C145.5,1436.7 141.6,1437.9 138.2,1438.4C134.8,1438.9 130.9,1438.1 128,1437.6C125.1,1437.1 123.2,1436.4 121,1435.5C118.8,1434.6 116.9,1433.4 115,1432C113.1,1430.6 110.9,1428.8 109.5,1427C108.1,1425.2 107.3,1423.7 106.7,1421.4C106.1,1419.1 105.9,1415.8 106.1,1413.1C106.3,1410.3 106.8,1407.6 107.9,1404.9C109,1402.2 110.8,1399.4 112.5,1396.7C114.2,1394 116.5,1391 118.4,1388.5C120.4,1386 122.5,1383.3 124.2,1381.5C125.9,1379.7 127.6,1378.7 128.4,1377.7C129.2,1376.7 128.7,1375.9 128.8,1375.6L128.8,1375.6C127.5,1375.5 123.4,1375.7 120.7,1375.1C118,1374.5 114.7,1373.5 112.5,1372.2C110.3,1370.9 108.6,1369 107.3,1367.5C106,1366 104.8,1364.3 104.9,1362.9C105,1361.5 105.7,1360.3 107.9,1359.3C110.2,1358.3 114.7,1357.6 118.4,1357C122.1,1356.4 127.2,1356.2 130.1,1355.8C133,1355.4 134.9,1354.9 135.9,1354.7L135.9,1354.7C134.2,1354.7 128.2,1354.9 126,1354.4C123.8,1353.9 124.3,1352.9 123,1351.9C121.7,1350.9 119.6,1349.4 118.4,1348.4C117.2,1347.4 116.3,1347 116,1346.1C115.7,1345.2 116.1,1344 116.6,1343.2C117.1,1342.4 118.4,1342.3 119,1341.4C119.6,1340.5 120.1,1339.5 120.1,1337.9C120.1,1336.4 119,1333.8 119,1332.1C119,1330.3 119.3,1328.8 120.1,1327.4C120.9,1326 123.1,1325.3 123.6,1323.9C124.1,1322.5 123,1320.7 123,1319.2C123,1317.7 122.9,1316 123.6,1315.1C124.3,1314.2 125.8,1313.8 127.1,1314C128.4,1314.2 129.8,1315.7 131.2,1316.3C132.6,1316.9 134.4,1318 135.3,1317.5C136.2,1317 136.4,1314.9 136.5,1313.4C136.6,1311.9 135.7,1310 135.9,1308.7C136.1,1307.4 136.6,1306.5 137.6,1305.8C138.6,1305.1 140.4,1305.3 141.7,1304.6C143,1303.9 144.3,1303.2 145.2,1301.7C146.1,1300.2 146.2,1297.9 147,1295.9C147.8,1294 148.3,1292.2 149.9,1290C151.5,1287.8 154.5,1284.4 156.3,1282.5C158.2,1280.6 160.2,1279.2 161,1278.6" stroke="#ff0000" stroke-width="3.1" fill="none" stroke-linejoin="round"/>
<path d="M161,1365C162.4,1363 166.5,1357.3 169.2,1353.2C171.9,1349.1 174.9,1343.9 177.4,1340.4C179.9,1336.9 182.3,1334.4 184.4,1332.2C186.5,1330 188.8,1328.1 190.2,1327.5C191.6,1326.9 192.4,1327.5 192.6,1328.7C192.8,1329.9 191,1333.2 191.4,1334.5C191.8,1335.8 193.5,1336.2 194.9,1336.3C196.3,1336.4 198.7,1334.6 199.6,1335.1C200.5,1335.6 200.7,1337.3 200.1,1339.2C199.5,1341.1 197.8,1344.1 196.1,1346.2C194.4,1348.3 192.1,1350.5 190.2,1352C188.2,1353.5 185.7,1354.7 184.4,1355.5C183.1,1356.3 182.9,1356.5 182.6,1356.7L182.6,1356.7C183.7,1356.9 186.8,1357.4 189.1,1357.9C191.3,1358.4 194.1,1358.8 196.1,1359.6C198.1,1360.4 200.3,1361.6 201.3,1362.5C202.3,1363.4 202.4,1364.1 201.9,1364.9C201.4,1365.7 200.5,1366.6 198.4,1367.2C196.3,1367.8 192.6,1368.3 189.1,1368.4C185.6,1368.5 181.1,1368.2 177.4,1367.8C173.7,1367.4 169.6,1366.6 166.9,1366.1C164.2,1365.6 162,1365.2 161,1365L161,1365C159.3,1362.6 154.3,1355.5 151.1,1350.8C147.9,1346.1 144.6,1340.4 141.7,1336.7C138.8,1333 135.9,1330.3 133.6,1328.6C131.3,1326.8 129.3,1326 127.7,1326.2C126.1,1326.4 124.8,1328.3 124.2,1329.7C123.6,1331.1 123.9,1332.5 124.2,1334.4C124.5,1336.4 125.2,1339.1 126,1341.4C126.8,1343.7 127.5,1346.4 128.9,1348.4C130.3,1350.5 133.5,1352.5 134.7,1353.7C135.9,1354.9 135.7,1355.1 135.9,1355.4L135.9,1355.4C134.2,1355.8 128,1356.8 125.4,1357.6C122.8,1358.4 121.2,1359.5 120.1,1360.5C119,1361.5 118.7,1362.2 119,1363.4C119.3,1364.6 120.1,1366.3 121.9,1367.5C123.8,1368.7 126.8,1369.6 130.1,1370.4C133.4,1371.2 138.4,1372.1 141.7,1372.2C145,1372.3 146.7,1372.2 149.9,1371C153.1,1369.8 159.2,1366 161,1365" stroke="#ff0000" stroke-width="3.4" fill="none" stroke-linejoin="round"/>
<path d="M161,1365L158.6,1339.2M161,1365L165,1340M161,1365L161.8,1345M161,1365L148.1,1383.7M161,1365L155,1380.5M161,1365L169.6,1385.6M161,1365L178.3,1375.2M161,1365L174.6,1379.4M161,1365L180,1371.4M161,1365L153,1375M161,1365L163.2,1379.6M161,1365L173,1382M161,1365L158,1377M161,1365L170,1357M161,1365L155,1353" stroke="#ff0000" stroke-width="4.3" fill="none" stroke-linecap="round"/>
<path d="M370.6,1365.9H652.8" stroke="#6a6a6a" stroke-width="1.7" fill="none"/>
<path d="M476.5,1365.7A35.3,35.1 0 1 0 547,1365.7A35.3,35.1 0 1 0 476.5,1365.7M441.2,1365.7A70.5,70.3 0 1 0 582.3,1365.7A70.5,70.3 0 1 0 441.2,1365.7M405.9,1365.7A105.8,105.4 0 1 0 617.6,1365.7A105.8,105.4 0 1 0 405.9,1365.7M370.6,1365.7A141.1,140.6 0 1 0 652.8,1365.7A141.1,140.6 0 1 0 370.6,1365.7M511.7,1506.2L511.7,1225.1M441.2,1487.4L582.3,1243.9M389.5,1436L633.9,1295.4M389.5,1295.4L633.9,1436M441.2,1243.9L582.3,1487.4" stroke="#111" stroke-width="1.15" fill="none"/>
<text x="515.7" y="1258.8" font-size="9.5" textLength="27.4" lengthAdjust="spacingAndGlyphs">−10dB</text>
<text x="515.7" y="1294.5" font-size="9.5" textLength="27.4" lengthAdjust="spacingAndGlyphs">−20dB</text>
<text x="515.7" y="1331.3" font-size="9.5" textLength="27.4" lengthAdjust="spacingAndGlyphs">−30dB</text>
<path d="M511.7,1238.7C515,1239 525,1239.4 531.7,1240.2C538.4,1241 545,1241.8 551.7,1243.7C558.4,1245.6 565,1248.5 571.7,1251.7C578.4,1254.9 585.5,1258.7 591.7,1262.7C597.9,1266.7 603.7,1271.2 608.7,1275.7C613.7,1280.2 617.9,1284.7 621.7,1289.7C625.5,1294.7 629,1300 631.7,1305.7C634.4,1311.4 636,1317.4 637.7,1323.7C639.4,1330 640.7,1336.7 641.7,1343.7C642.7,1350.7 643.5,1358.7 643.7,1365.7C644,1372.7 643.8,1380.2 643.2,1385.7C642.6,1391.2 642.4,1391.5 640.2,1398.7C638,1405.9 634.4,1419.5 630.2,1428.7C626,1437.9 621.5,1446.2 615.2,1453.7C609,1461.2 600.6,1468.7 592.7,1473.7C584.8,1478.7 575.3,1481.7 567.7,1483.7C560.1,1485.7 553.7,1484.8 547.2,1485.5C540.7,1486.2 534.7,1487.7 528.8,1488.1C522.9,1488.5 517.4,1488.6 511.7,1488.1C506,1487.6 500.1,1486.6 494.6,1485C489.1,1483.4 483.7,1480.8 478.9,1478.4C474.1,1476 469.9,1473.6 465.7,1470.5C461.5,1467.4 457.6,1463.7 453.9,1460C450.2,1456.3 446.5,1452.3 443.4,1448.2C440.3,1444.1 437.6,1439.5 435.5,1435.1C433.4,1430.7 431.9,1426.3 431,1421.9C430.1,1417.5 429.7,1413.2 430.2,1408.8C430.7,1404.4 432.2,1399.7 434.2,1395.7C436.2,1391.8 439,1388.2 442.1,1385.1C445.2,1382 448.9,1379.5 452.6,1377.3C456.3,1375.1 462.6,1373.7 464.4,1372C466.1,1370.3 464.4,1369.8 463.1,1367.3C461.8,1364.8 458.5,1360.3 456.5,1356.8C454.5,1353.3 453.1,1350.6 451.3,1346.3C449.5,1342 447.7,1335.3 445.9,1331C444.1,1326.7 442.1,1324.2 440.7,1320.5C439.3,1316.8 438.3,1313.1 437.7,1309.1C437.1,1305.2 437,1300.6 437.2,1296.8C437.4,1293 437.1,1290.5 438.9,1286.3C440.6,1282.1 442.4,1276.5 447.7,1271.4C452.9,1266.3 463.4,1260.1 470.4,1255.7C477.3,1251.3 483.2,1248.2 489.4,1245.1C495.6,1242 504.7,1238.5 507.8,1237.2" stroke="#00b050" stroke-width="2.9" fill="none" stroke-linecap="round" stroke-dasharray="0 7.6"/>
<path d="M507.8,1237.2C509.5,1236.8 514.4,1235 517.7,1234.7C521,1234.5 524.4,1235.1 527.7,1235.7C531,1236.3 534.4,1238 537.7,1238.2C541,1238.4 544.4,1236.4 547.7,1236.7C551,1237 554.4,1238.6 557.7,1240.2C561,1241.8 564.4,1244.3 567.7,1246.2C571,1248.1 574.5,1250 577.7,1251.7C580.9,1253.5 585.2,1255.9 586.7,1256.7" stroke="#00b050" stroke-width="2.9" fill="none" stroke-linecap="round" stroke-dasharray="0 7.6"/>
<path d="M511.7,1238.7C515,1239 525,1239.4 531.7,1240.2C538.4,1241 545,1241.8 551.7,1243.7C558.4,1245.6 565,1248.5 571.7,1251.7C578.4,1254.9 585.5,1258.7 591.7,1262.7C597.9,1266.7 603.7,1271.2 608.7,1275.7C613.7,1280.2 617.9,1284.7 621.7,1289.7C625.5,1294.7 629,1300 631.7,1305.7C634.4,1311.4 636,1317.4 637.7,1323.7C639.4,1330 640.7,1336.7 641.7,1343.7C642.7,1350.7 643.5,1358.7 643.7,1365.7C644,1372.7 643.8,1380.2 643.2,1385.7C642.6,1391.2 642.4,1391.5 640.2,1398.7C638,1405.9 634.4,1419.5 630.2,1428.7C626,1437.9 621.5,1446.2 615.2,1453.7C609,1461.2 600.6,1468.7 592.7,1473.7C584.8,1478.7 575.3,1481.7 567.7,1483.7C560.1,1485.7 553.7,1484.8 547.2,1485.5C540.7,1486.2 534.7,1487.7 528.8,1488.1C522.9,1488.5 517.4,1488.6 511.7,1488.1C506,1487.6 500.1,1486.6 494.6,1485C489.1,1483.4 483.7,1480.8 478.9,1478.4C474.1,1476 469.9,1473.6 465.7,1470.5C461.5,1467.4 457.6,1463.7 453.9,1460C450.2,1456.3 446.5,1452.3 443.4,1448.2C440.3,1444.1 437.6,1439.5 435.5,1435.1C433.4,1430.7 431.9,1426.3 431,1421.9C430.1,1417.5 429.7,1413.2 430.2,1408.8C430.7,1404.4 432.2,1399.7 434.2,1395.7C436.2,1391.8 439,1388.2 442.1,1385.1C445.2,1382 448.9,1379.5 452.6,1377.3C456.3,1375.1 460,1375.2 464.4,1372C468.8,1368.8 478.7,1361.3 478.9,1358.1C479.1,1354.9 470.2,1355.3 465.7,1352.8C461.2,1350.3 455.3,1345.8 452,1343.3C448.7,1340.8 448.1,1339.9 445.9,1338C443.7,1336.1 441.1,1334.2 438.9,1331.9C436.7,1329.6 434.5,1327.2 432.8,1324C431,1320.8 429.2,1316 428.4,1312.6C427.6,1309.3 427.3,1306.8 427.9,1303.9C428.5,1301 429.9,1297.8 431.9,1295.1C433.9,1292.4 436.7,1291.3 439.8,1287.8C442.9,1284.3 445.6,1278.4 450.3,1274.1C455,1269.8 463.3,1265.8 468.2,1261.8C473.1,1257.8 474.3,1253.6 479.6,1250.4C484.8,1247.2 494.3,1244.5 499.7,1242.5C505.1,1240.5 509.7,1239.3 511.7,1238.7" stroke="#4472c4" stroke-width="3.1" fill="none" stroke-linecap="round" stroke-dasharray="9 10.5" stroke-dashoffset="4"/>
<path d="M510.1,1358.9L501.8,1322.8M510.8,1356.7L506.5,1316M511.9,1354.7L512.8,1303.7M512.7,1358.3L521.3,1297.4M514.2,1356.5L529.8,1298.1M516,1355L534.9,1308.2M515.6,1358.7L536.9,1320.2M517.6,1357.6L535.2,1333.3M506.8,1354.7L497.1,1332.8M506.2,1359.2L486,1335.1M502.6,1360.5L475.3,1344.7" stroke="#00b050" stroke-width="2.5" fill="none" stroke-linecap="round" stroke-dasharray="0 5.9"/>
<path d="M467.7,1357.7C467.4,1360 466,1367.4 465.7,1371.7C465.4,1376 465.2,1380.2 465.7,1383.7C466.2,1387.2 467.2,1390 468.7,1392.7C470.2,1395.4 472.4,1398 474.7,1399.7C477,1401.4 479.9,1401.9 482.7,1402.7C485.5,1403.5 488.5,1403.7 491.7,1404.7C494.9,1405.7 498.4,1407.4 501.7,1408.7C505,1410 508.4,1411.9 511.7,1412.7C515,1413.5 518.5,1414.2 521.7,1413.7C524.9,1413.2 527.9,1411.4 530.7,1409.7C533.5,1408 536.4,1406.2 538.7,1403.7C541,1401.2 543.2,1398 544.7,1394.7C546.2,1391.4 547.2,1385.5 547.7,1383.7" stroke="#00b050" stroke-width="2.5" fill="none" stroke-linecap="round" stroke-dasharray="0 5.6"/>
<path d="M475.7,1318.7L476.7,1325.7M466,1338.7L468.7,1345.7M489.7,1313.7L493.7,1316.7M501.7,1316.7L503.7,1322.7M484.7,1325.7L489.7,1332.7M498.7,1328.2L506.1,1345.7M495.7,1341.7L504.7,1353M509.2,1313.7L512.7,1314.7M478.7,1335.7L482.2,1338.7M519.2,1312.7L521.7,1315.7M527.7,1321.7L530.2,1323.7M539.7,1335.7L543.3,1339.7M519.2,1361.7L530.7,1358.8M476.7,1353.7L486.7,1356.7M533.7,1370.7L541.7,1379.7M544.7,1383.7L545.7,1392.7M474.7,1375.7L480.7,1379.7M470.7,1386.7L473.7,1391.7M481.7,1395.7L485.7,1398.7M492.7,1399.7L497.7,1401.7M504.7,1405.7L508.7,1408.7M517.7,1410.7L522.7,1411.7M531.7,1407.7L536.7,1404.7M468.7,1367.7L475.7,1368.7" stroke="#27468b" stroke-width="3.5" stroke-linecap="round" fill="none"/>
<path d="M511.7,1238.9C513.3,1238.7 518.1,1237.6 521.5,1237.9C524.9,1238.2 528.5,1239.6 532,1240.5C535.5,1241.4 539.2,1243 542.5,1243.1C545.8,1243.2 548.9,1240.7 551.7,1241C554.6,1241.3 557,1243.5 559.6,1245C562.2,1246.5 564.9,1248.9 567.5,1250.2C570.1,1251.5 572.8,1252 575.4,1252.9C578,1253.8 580.9,1253.8 583.3,1255.5C585.7,1257.2 587.8,1261.4 589.8,1263.4C591.8,1265.4 592.7,1266.4 595.1,1267.3C597.5,1268.2 601.7,1267.3 604.3,1268.6C606.9,1269.9 609.7,1272.1 610.9,1275.2C612.1,1278.3 610.8,1283.9 611.4,1287C612,1290.1 612.7,1292.3 614.8,1293.6C616.9,1294.9 620.9,1294.2 624,1294.9C627.1,1295.6 631.4,1295.5 633.2,1297.5C635,1299.5 635.4,1303.4 635,1306.7C634.6,1310 631.3,1313.9 630.6,1317.2C629.9,1320.5 629.5,1323.8 630.6,1326.4C631.7,1329 635.1,1330.2 637.1,1333C639.1,1335.8 641.2,1339.6 642.4,1343.5C643.6,1347.4 644.1,1352.7 644.5,1356.6C644.9,1360.5 645,1363.2 645,1367.1C645,1371.1 644.9,1375.9 644.5,1380.3C644.1,1384.7 643.5,1388.7 642.4,1393.4C641.3,1398.1 639.7,1402.8 637.7,1408.7C635.7,1414.6 634,1421.2 630.2,1428.7C626.5,1436.2 621.5,1446.2 615.2,1453.7C609,1461.2 600.6,1468.7 592.7,1473.7C584.8,1478.7 575.3,1481.7 567.7,1483.7C560.1,1485.7 553.7,1484.8 547.2,1485.5C540.7,1486.2 534.7,1487.7 528.8,1488.1C522.9,1488.5 517.4,1488.6 511.7,1488.1C506,1487.6 500.1,1486.6 494.6,1485C489.1,1483.4 483.7,1480.8 478.9,1478.4C474.1,1476 469.9,1473.6 465.7,1470.5C461.5,1467.4 457.6,1463.7 453.9,1460C450.2,1456.3 446.5,1452.3 443.4,1448.2C440.3,1444.1 437.6,1439.5 435.5,1435.1C433.4,1430.7 431.9,1426.3 431,1421.9C430.1,1417.5 429.7,1413.2 430.2,1408.8C430.7,1404.4 432.6,1399.2 434.2,1395.7C435.8,1392.2 437.3,1390.6 440,1387.7C442.7,1384.8 446.6,1381.1 450.2,1378.4C453.8,1375.8 458.2,1373.1 461.9,1371.8C465.5,1370.5 469.2,1370.8 472.1,1370.4C475,1370 478.2,1369.5 479.4,1369.3L479.4,1369.3C479.8,1368.9 481.8,1367.6 481.6,1367C481.4,1366.4 480.4,1365.7 478,1365.6C475.6,1365.5 469.4,1366.6 467,1366.4C464.6,1366.2 463.9,1365.1 463.4,1364.5C462.9,1363.9 463.1,1363.1 464.1,1362.6C465.1,1362.1 465.9,1361.7 469.2,1361.5C472.5,1361.3 478.9,1361 483.8,1361.2C488.7,1361.4 493.8,1361.9 498.4,1362.6C503,1363.4 509.5,1365.2 511.7,1365.7L511.7,1365.7C509.5,1364.9 502.3,1362.1 498.4,1360.9C494.5,1359.7 491.6,1359.3 488.2,1358.7C484.8,1358.1 481.2,1357.9 478,1357.2C474.8,1356.5 472.1,1355.6 469.2,1354.3C466.3,1353 462.9,1351.3 460.5,1349.2C458.1,1347.1 456.3,1344.8 454.6,1341.9C452.9,1339 451.6,1335.4 450.2,1331.7C448.8,1328 446.5,1323.7 445.9,1320C445.3,1316.3 446.1,1313.5 446.8,1309.5C447.5,1305.5 448.8,1300.7 450,1296.3C451.2,1291.9 452.6,1287.3 453.9,1283.2C455.2,1279.1 456.3,1274.9 457.8,1271.4C459.3,1267.9 461.1,1265.3 463.1,1262.2C465.1,1259.1 467.3,1255.4 469.7,1253C472.1,1250.6 474.7,1248.7 477.5,1247.7C480.3,1246.7 483.4,1247.5 486.7,1246.9C490,1246.3 494.1,1245.3 497.2,1244.3C500.3,1243.3 502.7,1241.6 505.1,1240.7C507.5,1239.8 510.6,1239.2 511.7,1238.9" stroke="#ff0000" stroke-width="3.1" fill="none" stroke-linejoin="round"/>
<path d="M511.7,1365.7C510.3,1364.1 506.1,1358.8 503.2,1355.9C500.3,1353.1 496.7,1351 494.4,1348.6C492.1,1346.2 490.1,1343.5 489.3,1341.3C488.5,1339.1 488.8,1337.7 489.3,1335.5C489.8,1333.3 491.4,1330.3 492.2,1328.2C493,1326.1 493.3,1324.1 494.4,1323.1C495.5,1322.1 497.3,1322.2 498.8,1322.3C500.3,1322.4 502,1324.4 503.2,1323.8C504.4,1323.2 504.9,1319.9 506.1,1318.7C507.3,1317.5 509,1316.6 510.5,1316.5C512,1316.4 513.6,1318.4 514.9,1318C516.2,1317.6 517.2,1315 518.5,1314.3C519.8,1313.6 521.8,1313 522.9,1313.6C524,1314.2 524,1317.2 525.1,1318C526.2,1318.8 528.4,1317.8 529.5,1318.7C530.6,1319.6 530.9,1321.8 531.6,1323.1C532.3,1324.4 533.8,1324.6 533.8,1326.7C533.8,1328.8 532.3,1332.6 531.6,1335.5C530.9,1338.4 530,1342.8 529.7,1344.2L529.7,1344.2C531,1342.3 535.2,1336.2 537.3,1333C539.4,1329.8 540.6,1326.7 542.5,1325.1C544.4,1323.5 546.5,1323.5 548.7,1323.4C550.9,1323.3 553.9,1323.8 555.7,1324.6C557.5,1325.4 559.4,1326.6 559.6,1328.3C559.8,1330 557.8,1333 556.7,1334.7C555.6,1336.4 555.1,1336.2 553.1,1338.2C551.1,1340.2 546.9,1344.7 544.7,1346.7C542.5,1348.7 540.7,1349.5 539.9,1350.1L539.9,1350.1C541.2,1349.3 545.1,1346.7 547.7,1345.2C550.3,1343.7 552.2,1342.4 555.7,1340.9C559.2,1339.4 565.6,1336.6 568.8,1336.4C571.9,1336.2 574,1338.1 574.6,1339.6C575.2,1341.2 573.7,1344.2 572.7,1345.7C571.7,1347.2 572.1,1347 568.8,1348.8C565.5,1350.6 558.4,1354.4 553.1,1356.6C547.9,1358.8 541.7,1360.6 537.3,1361.9C532.9,1363.2 528.5,1364.1 526.8,1364.5L526.8,1364.5C528.4,1364.1 534.1,1362.6 536.7,1362.2C539.3,1361.8 540.8,1361.4 542.5,1361.9C544.2,1362.4 547,1363.8 547,1365C547,1366.2 545.4,1368.6 542.5,1369.2C539.6,1369.8 531.6,1368.6 529.4,1368.5L529.4,1368.5C530.6,1369.1 534.2,1370.5 536.7,1372C539.2,1373.5 542.8,1375.1 544.5,1377.3C546.2,1379.5 547.4,1381.8 547.2,1385.1C547,1388.4 544.4,1394.2 543.2,1397C542,1399.8 541.6,1400.3 540,1401.8C538.4,1403.3 535.8,1404.7 533.5,1406.1C531.2,1407.6 528.6,1409.3 526.2,1410.5C523.8,1411.7 521.1,1413.3 518.9,1413.4C516.7,1413.5 515,1411.7 513,1411.2C511.1,1410.7 508.9,1411.8 507.2,1410.5C505.5,1409.2 504.4,1403.9 502.8,1403.2C501.2,1402.5 499,1407.1 497.7,1406.1C496.4,1405.1 496.4,1397.9 494.8,1397.4C493.2,1396.9 490.3,1402.8 488.2,1403.2C486.1,1403.6 484.6,1400.1 482.4,1399.6C480.2,1399.1 476.6,1400.9 475.1,1400.3C473.6,1399.7 474.9,1397.6 473.6,1395.9C472.2,1394.2 467.5,1392.3 467,1390.1C466.5,1387.9 470.7,1384.9 470.7,1382.8C470.7,1380.7 467.2,1379.7 467,1377.7C466.8,1375.8 467.1,1372.5 469.2,1371.1C471.3,1369.7 477.7,1369.6 479.4,1369.3" stroke="#ff0000" stroke-width="3.4" fill="none" stroke-linejoin="round"/>
<text x="157.4" y="1215.2" font-size="16.5">0<tspan dy="-1.8" dx="0" font-size="16">°</tspan></text>
<text x="78.6" y="1241.3" font-size="16.5">30<tspan dy="-1.8" dx="0" font-size="16">°</tspan></text>
<text x="240.4" y="1241" font-size="16.5">30<tspan dy="-1.8" dx="0" font-size="16">°</tspan></text>
<text x="23.5" y="1295" font-size="16.5">60<tspan dy="-1.8" dx="0" font-size="16">°</tspan></text>
<text x="293" y="1293.5" font-size="16.5">60<tspan dy="-1.8" dx="0" font-size="16">°</tspan></text>
<text x="0" y="1370.3" font-size="16.5">90<tspan dy="-1.8" dx="0" font-size="16">°</tspan></text>
<text x="314.5" y="1370" font-size="16.5">90<tspan dy="-1.8" dx="0" font-size="16">°</tspan></text>
<text x="16" y="1454" font-size="16.5">120<tspan dy="-1.8" dx="0" font-size="16">°</tspan></text>
<text x="293" y="1450.5" font-size="16.5">120<tspan dy="-1.8" dx="0" font-size="16">°</tspan></text>
<text x="67.6" y="1507.5" font-size="16.5">150<tspan dy="-1.8" dx="0" font-size="16">°</tspan></text>
<text x="241.4" y="1504" font-size="16.5">150<tspan dy="-1.8" dx="0" font-size="16">°</tspan></text>
<text x="155" y="1525.5" font-size="16.5">180<tspan dy="-1.8" dx="0" font-size="16">°</tspan></text>
<text x="508.8" y="1215.2" font-size="16.5">0<tspan dy="-1.8" dx="0" font-size="16">°</tspan></text>
<text x="426.9" y="1242.3" font-size="16.5">30<tspan dy="-1.8" dx="0" font-size="16">°</tspan></text>
<text x="591.1" y="1241.3" font-size="16.5">30<tspan dy="-1.8" dx="0" font-size="16">°</tspan></text>
<text x="374" y="1295" font-size="16.5">60<tspan dy="-1.8" dx="0" font-size="16">°</tspan></text>
<text x="642.6" y="1293.5" font-size="16.5">60<tspan dy="-1.8" dx="0" font-size="16">°</tspan></text>
<text x="350" y="1371" font-size="16.5">90<tspan dy="-1.8" dx="0" font-size="16">°</tspan></text>
<text x="663.5" y="1370" font-size="16.5">90<tspan dy="-1.8" dx="0" font-size="16">°</tspan></text>
<text x="366" y="1454" font-size="16.5">120<tspan dy="-1.8" dx="0" font-size="16">°</tspan></text>
<text x="642.6" y="1451" font-size="16.5">120<tspan dy="-1.8" dx="0" font-size="16">°</tspan></text>
<text x="416.9" y="1509" font-size="16.5">150<tspan dy="-1.8" dx="0" font-size="16">°</tspan></text>
<text x="591.1" y="1505" font-size="16.5">150<tspan dy="-1.8" dx="0" font-size="16">°</tspan></text>
<text x="505.3" y="1527.5" font-size="16.5">180<tspan dy="-1.8" dx="0" font-size="16">°</tspan></text>
<text x="249.7" y="1213" font-size="19.5" textLength="66" lengthAdjust="spacingAndGlyphs">xz-plane</text>
<text x="586.1" y="1212.5" font-size="19.5" textLength="66.4" lengthAdjust="spacingAndGlyphs">yz-plane</text>
<text x="286.4" y="1241" font-size="17.5" textLength="47.9" lengthAdjust="spacing"><tspan font-style="italic">ϕ</tspan> = 0°</text>
<text x="626.6" y="1241.5" font-size="17.5" textLength="58.2" lengthAdjust="spacing"><tspan font-style="italic">ϕ</tspan> = 90°</text>
<path d="M142.6,1189.9H157 M147,1186Q145.4,1189 142.1,1189.9 Q145.4,1190.8 147,1193.8" stroke="#000" stroke-width="1.3" fill="none"/>
<path d="M169.3,1189.9H182.7 M178.3,1186Q179.9,1189 183.2,1189.9 Q179.9,1190.8 178.3,1193.8" stroke="#000" stroke-width="1.3" fill="none"/>
<text x="158.4" y="1194.2" font-size="17" font-style="italic">θ</text>
<path d="M490.1,1188.8H503.4 M494.5,1184.9Q492.9,1187.9 489.6,1188.8 Q492.9,1189.7 494.5,1192.7" stroke="#000" stroke-width="1.3" fill="none"/>
<path d="M520.3,1188.8H533.5 M529.1,1184.9Q530.7,1187.9 534,1188.8 Q530.7,1189.7 529.1,1192.7" stroke="#000" stroke-width="1.3" fill="none"/>
<text x="507.6" y="1193.2" font-size="17" font-style="italic">θ</text>
<rect x="113.6" y="1555" width="458.2" height="86.7" fill="#fff" stroke="#7a7a7a" stroke-width="1.4"/>
<path d="M132.9,1569H193" stroke="#ff0000" stroke-width="2.2" fill="none"/>
<path d="M134.4,1591.5H195" stroke="#00b050" stroke-width="2.4" stroke-linecap="round" stroke-dasharray="0 11.45" fill="none"/>
<path d="M132.9,1625.5H192.7" stroke="#0070c0" stroke-width="2.5" stroke-dasharray="4.7 2" fill="none"/>
<text x="203.7" y="1576.5" font-size="15.5" textLength="100.5" lengthAdjust="spacingAndGlyphs">Co-pol., <tspan font-style="italic" font-size="17.5">α</tspan>= 90<tspan font-size="9.5" dy="-4.5">°</tspan></text>
<text x="203.7" y="1602.2" font-size="15.5" textLength="109.8" lengthAdjust="spacingAndGlyphs">Co-pol., <tspan font-style="italic" font-size="17.5">α</tspan>= 120<tspan font-size="9.5" dy="-4.5">°</tspan></text>
<text x="203.7" y="1628" font-size="15.5" textLength="109.8" lengthAdjust="spacingAndGlyphs">Co-pol., <tspan font-style="italic" font-size="17.5">α</tspan>= 150<tspan font-size="9.5" dy="-4.5">°</tspan></text>
<path d="M353.6,1569H415.1" stroke="#ff0000" stroke-width="2.8" fill="none"/>
<path d="M355.1,1591.5H417.1" stroke="#00b050" stroke-width="2.4" stroke-linecap="round" stroke-dasharray="0 11.45" fill="none"/>
<path d="M353.6,1625.5H414.8" stroke="#0070c0" stroke-width="2.5" stroke-dasharray="4.7 2" fill="none"/>
<text x="426.9" y="1576.5" font-size="15.5" textLength="117.7" lengthAdjust="spacingAndGlyphs">Cross-pol., <tspan font-style="italic" font-size="17.5">α</tspan>= 90<tspan font-size="9.5" dy="-4.5">°</tspan></text>
<text x="426.9" y="1602.2" font-size="15.5" textLength="127" lengthAdjust="spacingAndGlyphs">Cross-pol., <tspan font-style="italic" font-size="17.5">α</tspan>= 120<tspan font-size="9.5" dy="-4.5">°</tspan></text>
<text x="426.9" y="1628" font-size="15.5" textLength="127" lengthAdjust="spacingAndGlyphs">Cross-pol., <tspan font-style="italic" font-size="17.5">α</tspan>= 150<tspan font-size="9.5" dy="-4.5">°</tspan></text>
<text x="328.6" y="1688" font-size="24.5">(d)</text>
</svg></body></html>
